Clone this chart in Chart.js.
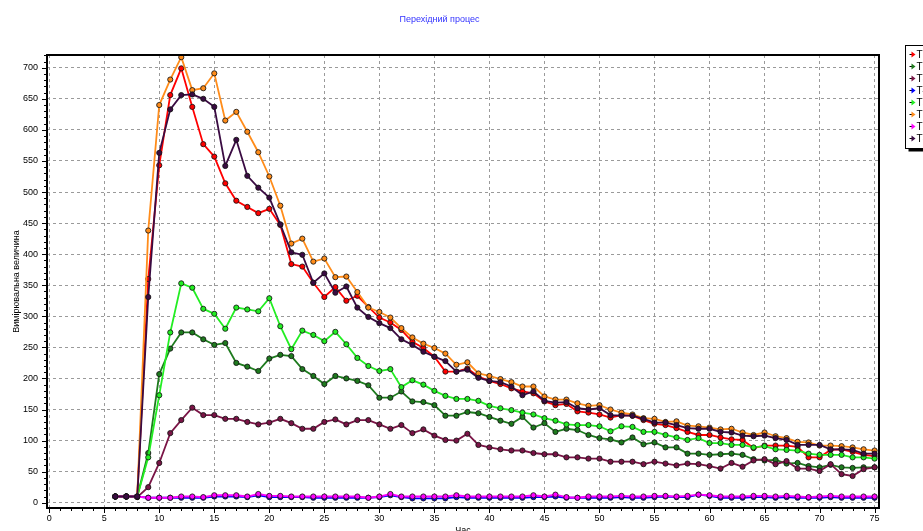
<!DOCTYPE html>
<html>
<head>
<meta charset="utf-8">
<script src="https://cdn.jsdelivr.net/npm/chart.js@4.4.1/dist/chart.umd.min.js"></script>
<style>
  html, body { margin: 0; padding: 0; background: #fff; overflow: hidden; }
  #wrap { width: 923px; height: 531px; overflow: hidden; }
</style>
</head>
<body>
<div id="wrap"><canvas id="procChart" width="923" height="540"></canvas></div>
<script>
const times = [6, 7, 8, 9, 10, 11, 12, 13, 14, 15, 16, 17, 18, 19, 20, 21, 22, 23, 24, 25,
  26, 27, 28, 29, 30, 31, 32, 33, 34, 35, 36, 37, 38, 39, 40, 41, 42, 43, 44, 45,
  46, 47, 48, 49, 50, 51, 52, 53, 54, 55, 56, 57, 58, 59, 60, 61, 62, 63, 64, 65,
  66, 67, 68, 69, 70, 71, 72, 73, 74, 75];

const t1 = [10, 10, 10, 360, 543, 656, 699, 637, 577, 557, 514, 486, 476, 466, 473, 447, 384, 380, 354, 331,
  347, 325, 333, 315, 298, 290, 278, 259, 249, 235, 211, 211, 216, 203, 196, 191, 184, 179, 176, 163,
  157, 159, 147, 145, 142, 137, 141, 140, 133, 127, 125, 120, 114, 109, 109, 105, 102, 101, 88, 92,
  92, 92, 90, 73, 73, 85, 86, 82, 77, 75];
const t2 = [10, 10, 10, 80, 207, 248, 274, 274, 263, 254, 257, 225, 219, 212, 232, 238, 236, 215, 204, 191,
  204, 200, 196, 189, 169, 169, 179, 163, 162, 157, 140, 140, 146, 144, 138, 132, 127, 138, 121, 128,
  114, 119, 117, 109, 104, 102, 97, 105, 94, 97, 89, 89, 79, 79, 77, 78, 79, 77, 70, 68,
  69, 63, 64, 59, 57, 61, 57, 56, 57, 57];
const t3 = [10, 10, 9, 25, 64, 112, 133, 153, 141, 141, 135, 135, 130, 126, 129, 135, 128, 119, 119, 130,
  134, 126, 133, 133, 126, 119, 125, 112, 118, 108, 101, 100, 111, 93, 89, 86, 84, 84, 80, 78,
  78, 73, 73, 71, 71, 66, 66, 66, 62, 66, 63, 60, 63, 62, 59, 55, 64, 58, 68, 70,
  62, 67, 55, 55, 51, 62, 46, 43, 54, 57];
const t4 = [10, 10, 10, 8, 8, 8, 8, 8, 8, 10, 10, 10, 9, 12, 9, 9, 9, 9, 8, 8,
  8, 8, 8, 8, 9, 12, 9, 7, 7, 7, 7, 9, 8, 8, 8, 8, 8, 8, 9, 9,
  10, 8, 8, 8, 8, 8, 9, 8, 8, 9, 10, 9, 9, 13, 11, 8, 8, 8, 9, 9,
  8, 9, 8, 8, 8, 9, 8, 8, 8, 8];
const t5 = [10, 10, 10, 73, 173, 274, 353, 346, 312, 304, 280, 314, 311, 308, 329, 284, 247, 277, 270, 260,
  275, 255, 233, 220, 212, 215, 186, 197, 190, 180, 172, 167, 167, 164, 156, 152, 149, 145, 142, 136,
  132, 126, 125, 125, 123, 115, 123, 122, 114, 114, 109, 105, 101, 104, 96, 96, 93, 93, 89, 91,
  86, 85, 84, 79, 77, 77, 77, 73, 73, 71];
const t6 = [10, 10, 10, 438, 640, 681, 717, 664, 667, 691, 615, 629, 597, 564, 525, 478, 417, 425, 388, 393,
  363, 364, 339, 314, 307, 298, 281, 266, 256, 249, 240, 222, 226, 208, 204, 199, 194, 187, 187, 171,
  166, 166, 160, 156, 157, 150, 145, 142, 136, 135, 130, 131, 124, 123, 121, 118, 119, 113, 109, 113,
  107, 104, 98, 97, 92, 92, 91, 89, 86, 84];
const t7 = [10, 10, 10, 8, 8, 8, 10, 10, 9, 12, 12, 12, 10, 14, 11, 11, 10, 10, 10, 10,
  10, 10, 10, 8, 10, 14, 10, 10, 10, 10, 10, 12, 10, 10, 10, 10, 10, 10, 12, 10,
  13, 9, 8, 10, 10, 10, 11, 10, 10, 11, 11, 10, 11, 13, 12, 10, 10, 10, 11, 11,
  10, 11, 10, 9, 10, 11, 10, 10, 10, 10];
const t8 = [10, 10, 10, 331, 563, 633, 656, 657, 650, 637, 542, 584, 526, 507, 491, 448, 403, 399, 354, 369,
  338, 348, 314, 299, 289, 281, 263, 254, 243, 235, 228, 211, 214, 201, 196, 194, 187, 173, 179, 164,
  161, 162, 152, 150, 152, 141, 140, 140, 135, 129, 129, 125, 120, 119, 119, 114, 113, 108, 107, 108,
  104, 101, 93, 93, 93, 86, 86, 85, 79, 79];

const seriesNames = ['T1', 'T2', 'T3', 'T4', 'T5', 'T6', 'T7', 'T8'];
const seriesValues = [t1, t2, t3, t4, t5, t6, t7, t8];
const seriesColors = ['#ff0000', '#1e7b1e', '#7a1446', '#0000ff', '#22ee22', '#ff8c1a', '#ff00ff', '#3a0b42'];

const xTickLabels = [0, 5, 10, 15, 20, 25, 30, 35, 40, 45, 50, 55, 60, 65, 70, 75];
const yTickLabels = [0, 50, 100, 150, 200, 250, 300, 350, 400, 450, 500, 550, 600, 650, 700];

const FONT = 'Arial, "Liberation Sans", sans-serif';

// frame, axis tick marks and the little legend box on the right
const framePlugin = {
  id: 'frame',
  afterDraw(chart) {
    const ctx = chart.ctx;
    const a = chart.chartArea;
    const xs = chart.scales.x;
    const ys = chart.scales.y;
    ctx.save();
    ctx.strokeStyle = '#000';
    ctx.lineWidth = 1;
    ctx.beginPath();
    for (let v = 0; v <= 75; v++) {
      const px = Math.round(xs.getPixelForValue(v)) + 0.5;
      const len = v % 5 === 0 ? 5 : 3;
      ctx.moveTo(px, a.bottom);
      ctx.lineTo(px, a.bottom + len);
    }
    for (let v = 0; v <= 720; v += 10) {
      const py = Math.round(ys.getPixelForValue(v)) + 0.5;
      const len = v % 50 === 0 ? 5 : 3;
      ctx.moveTo(a.left, py);
      ctx.lineTo(a.left - len, py);
    }
    ctx.stroke();

    ctx.lineWidth = 2;
    ctx.strokeRect(a.left, a.top, a.right - a.left, a.bottom - a.top);

    // legend
    const lx = 905.5, ly = 45.5, lw = 50, lh = 103;
    ctx.fillStyle = '#000';
    ctx.fillRect(lx + 3, ly + 3, lw, lh);
    ctx.fillStyle = '#fff';
    ctx.fillRect(lx, ly, lw, lh);
    ctx.lineWidth = 1;
    ctx.strokeStyle = '#000';
    ctx.strokeRect(lx, ly, lw, lh);
    ctx.font = '10px ' + FONT;
    ctx.textBaseline = 'middle';
    chart.data.datasets.forEach((ds, i) => {
      const cy = ly + 9 + i * 12;
      ctx.strokeStyle = '#000';
      ctx.beginPath();
      ctx.moveTo(lx + 4, cy);
      ctx.lineTo(lx + 7, cy);
      ctx.stroke();
      ctx.fillStyle = ds.borderColor;
      ctx.beginPath();
      ctx.moveTo(lx + 6, cy - 3);
      ctx.lineTo(lx + 10, cy);
      ctx.lineTo(lx + 6, cy + 3);
      ctx.closePath();
      ctx.fill();
      ctx.fillStyle = '#000';
      ctx.fillText(ds.label, lx + 11, cy + 0.5);
    });
    ctx.restore();
  }
};

const datasets = seriesNames.map((name, i) => ({
  label: name,
  data: times.map((t, k) => ({ x: t, y: seriesValues[i][k] })),
  borderColor: seriesColors[i],
  backgroundColor: seriesColors[i],
  pointBackgroundColor: seriesColors[i],
  pointBorderColor: 'rgba(20, 20, 20, 0.85)',
  pointBorderWidth: 1,
  pointRadius: 2.6,
  borderWidth: 1.8,
  tension: 0,
  order: -i
}));

new Chart(document.querySelector('#procChart'), {
  type: 'line',
  data: { datasets: datasets },
  options: {
    responsive: false,
    animation: false,
    layout: { padding: { left: 0, right: 44, top: 0, bottom: 0 } },
    plugins: {
      legend: { display: false },
      tooltip: { enabled: false },
      title: {
        display: true,
        text: 'Перехідний процес',
        color: '#3333ff',
        font: { family: FONT, size: 9, weight: 'normal' },
        padding: { top: 14, bottom: 30.2 }
      }
    },
    scales: {
      x: {
        type: 'linear',
        min: -0.2,
        max: 75.4,
        afterBuildTicks: (scale) => { scale.ticks = xTickLabels.map(v => ({ value: v })); },
        afterFit: (scale) => { scale.height = 32; },
        grid: { color: '#9a9a9a', lineWidth: 1, drawTicks: false },
        border: { display: false, dash: [3, 3] },
        ticks: { color: '#000', font: { family: FONT, size: 9 }, padding: 5, maxRotation: 0 },
        title: {
          display: true,
          text: 'Час',
          color: '#000',
          font: { family: FONT, size: 9 },
          padding: { top: 0, bottom: 4 }
        }
      },
      y: {
        type: 'linear',
        min: -8.5,
        max: 720.5,
        afterBuildTicks: (scale) => { scale.ticks = yTickLabels.map(v => ({ value: v })); },
        afterFit: (scale) => { scale.width = 47; },
        grid: { color: '#9a9a9a', lineWidth: 1, drawTicks: false },
        border: { display: false, dash: [3, 3] },
        ticks: { color: '#000', font: { family: FONT, size: 9 }, padding: 9 },
        title: {
          display: true,
          text: 'Вимірювальна величина',
          color: '#000',
          font: { family: FONT, size: 9 },
          padding: { top: 11, bottom: 0 }
        }
      }
    }
  },
  plugins: [framePlugin]
});
</script>
</body>
</html>
